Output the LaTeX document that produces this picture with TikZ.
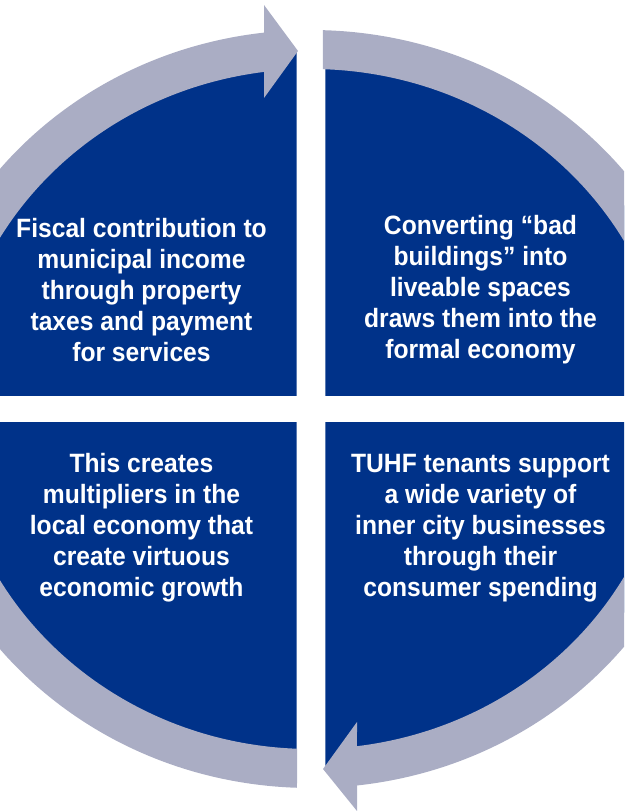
\documentclass[tikz,border=0pt]{standalone}
\usepackage{fontspec}
\usetikzlibrary{calc}
\newfontfamily\labelfont{Liberation Sans}[FakeStretch=0.93]
\definecolor{quadnavy}{RGB}{0,50,137}
\definecolor{ringgrey}{RGB}{170,173,196}
\tikzset{
  quadrant/.style={fill=quadnavy},
  ringarrow/.style={fill=ringgrey},
  quadtext/.style={text=white, align=center, inner sep=0pt,
    font=\labelfont\bfseries\fontsize{26.5}{31}\selectfont}
}
\begin{document}
\begin{tikzpicture}[x=1pt,y=1pt]
\useasboundingbox (0,0) rectangle (624,811);
\clip (0,0) rectangle (624,811);
\coordinate (C) at (311,402);

% four quadrants of the navy disc, separated by a white cross
\begin{scope}
  \clip (0,415.7) rectangle (296.7,811);
  \fill[quadrant] (C) ellipse [x radius=381, y radius=357];
\end{scope}
\begin{scope}
  \clip (325.3,415.7) rectangle (624,811);
  \fill[quadrant] (C) ellipse [x radius=381, y radius=357];
\end{scope}
\begin{scope}
  \clip (0,0) rectangle (296.7,388.7);
  \fill[quadrant] (C) ellipse [x radius=381, y radius=357];
\end{scope}
\begin{scope}
  \clip (325.3,0) rectangle (624,388.7);
  \fill[quadrant] (C) ellipse [x radius=381, y radius=357];
\end{scope}

% left circular arrow: from the bottom, round the left, head at the top
\fill[ringarrow] ($(C)+(268:402 and 379)$)
  arc[start angle=268, end angle=96.7, x radius=402, y radius=379]
  -- (264,806) -- (298,760) -- (264,713)
  -- ($(C)+(97.5:360 and 340)$)
  arc[start angle=97.5, end angle=267.8, x radius=360, y radius=340]
  -- cycle;

% right circular arrow: from the top, round the right, head at the bottom
\fill[ringarrow] ($(C)+(88.3:402 and 379)$)
  arc[start angle=88.3, end angle=-83.4, x radius=402, y radius=379]
  -- (357,0) -- (323,42) -- (357,89)
  -- ($(C)+(-82.66:360 and 340)$)
  arc[start angle=-82.66, end angle=88.1, x radius=360, y radius=340]
  -- cycle;

% quadrant texts
\node[quadtext] (fiscal) at (141.5,521)
  {Fiscal contribution to\\municipal income\\through property\\taxes and payment\\for services};
\node[quadtext] (convert) at (480.5,521)
  {Converting “bad\\buildings” into\\liveable spaces\\draws them into the\\formal economy};
\node[quadtext] (multi) at (141.5,283)
  {This creates\\multipliers in the\\local economy that\\create virtuous\\economic growth};
\node[quadtext] (tenants) at (480.5,283)
  {TUHF tenants support\\a wide variety of\\inner city businesses\\through their\\consumer spending};
\end{tikzpicture}
\end{document}
